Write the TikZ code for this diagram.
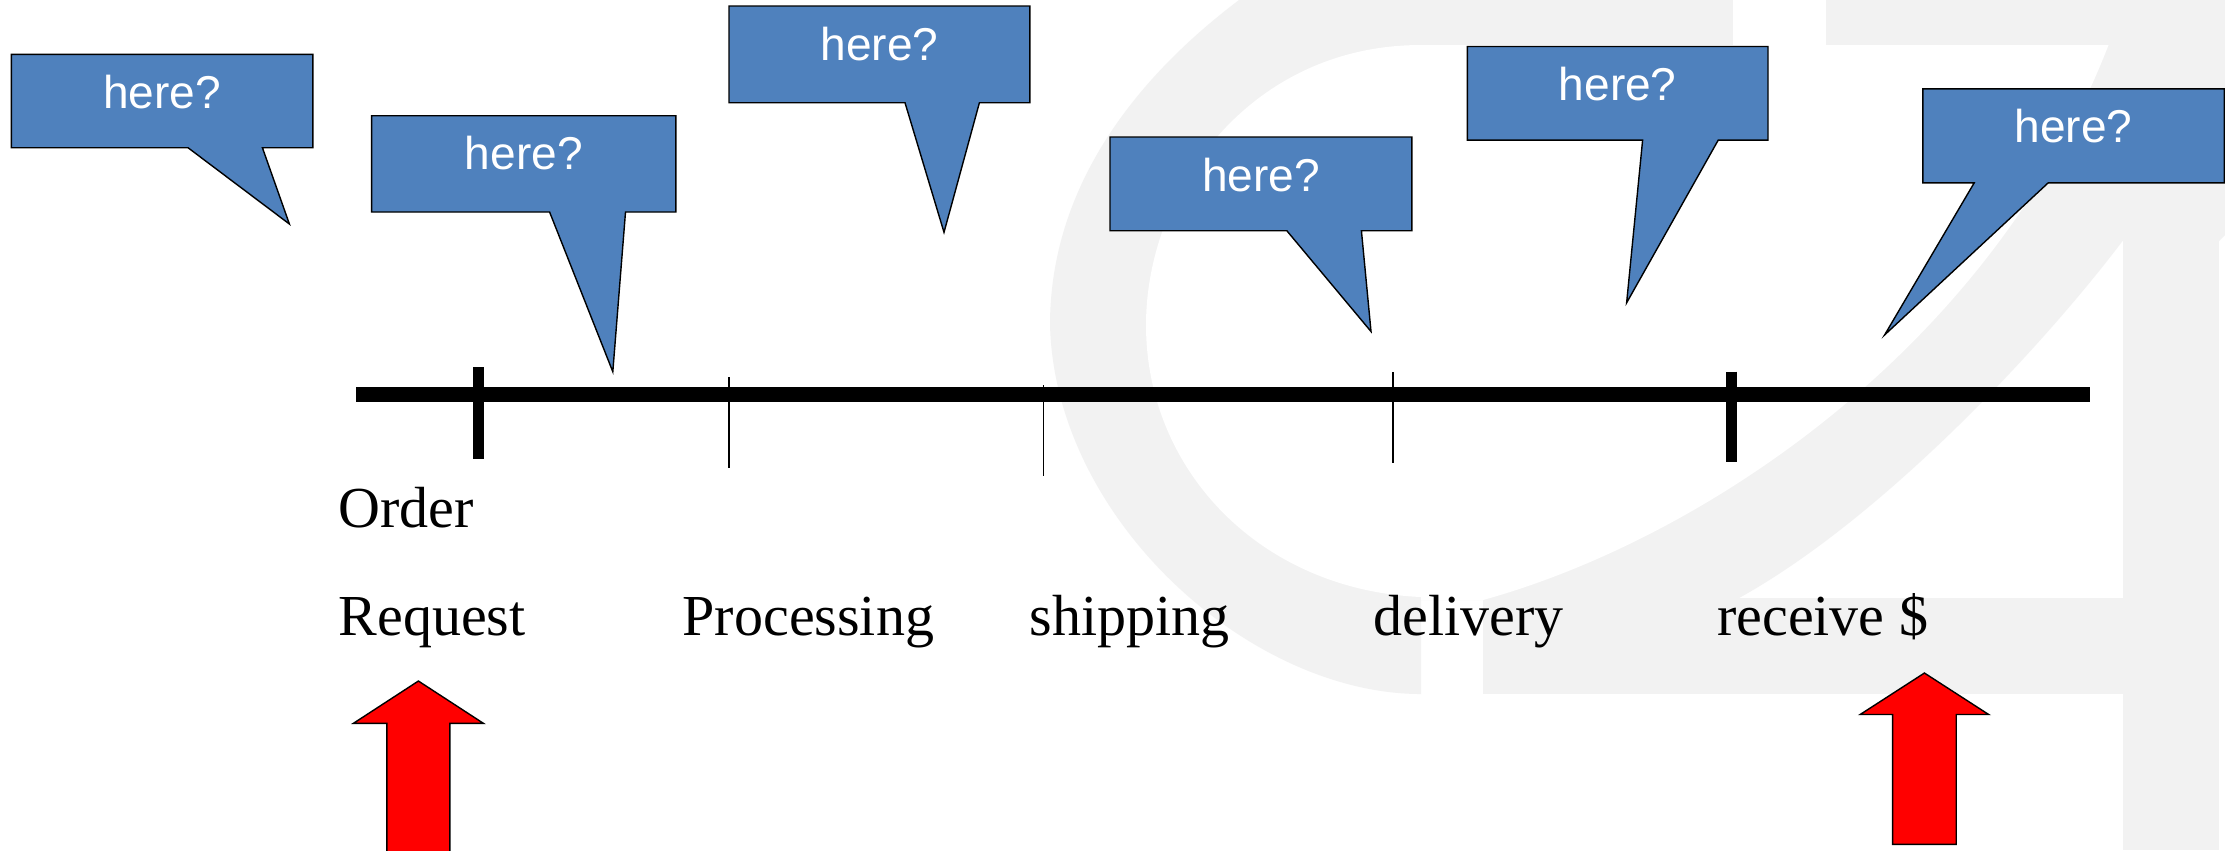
\documentclass[tikz,border=0pt]{standalone}
\usepackage{fontspec}
\setmainfont{Liberation Serif}
\newfontfamily\calloutfont{Liberation Sans}

\definecolor{calloutblue}{HTML}{4F81BD}
\definecolor{markgray}{HTML}{F2F2F2}
\definecolor{arrowred}{HTML}{FF0000}

\tikzset{
  callout/.style={fill=calloutblue, draw=black, line width=0.014cm, line join=miter},
  calloutlabel/.style={text=white, inner sep=0pt, anchor=base,
    font=\calloutfont\fontsize{13.1}{15}\selectfont},
  phaselabel/.style={text=black, inner sep=0pt, anchor=base west,
    font=\fontsize{16.5}{20}\selectfont},
  timeline/.style={line width=0.156cm, line cap=butt},
  majortick/.style={line width=0.114cm, line cap=butt},
  minortick/.style={line width=0.015cm, line cap=butt},
  blockarrow/.style={fill=arrowred, draw=black, line width=0.014cm, line join=miter},
}

% speech bubble: left, top, right, bottom, tail left, tail right, tip x, tip y, name
\newcommand\herebox[9]{%
  \draw[callout] (#1,#2) -- (#3,#2) -- (#3,#4) -- (#6,#4) -- (#7,#8) -- (#5,#4) -- (#1,#4) -- cycle;
  \node[calloutlabel] (#9) at ({(#1+#3)/2},{#2+54}) {here?};
}

% upward block arrow: tip x, tip y, head base y, head half width, shaft half width, bottom y
\newcommand\uparrowblock[6]{%
  \draw[blockarrow] (#1,#2) -- ({#1+#4},#3) -- ({#1+#5},#3) -- ({#1+#5},#6)
    -- ({#1-#5},#6) -- ({#1-#5},#3) -- ({#1-#4},#3) -- cycle;
}

\begin{document}
\begin{tikzpicture}[x=0.01cm, y=-0.01cm]
\useasboundingbox (0,0) rectangle (2225,850);
\clip (0,0) rectangle (2225,850);
\fill[white] (0,0) rectangle (2225,850);

% faint logo mark in the background
\fill[markgray] (1239,0) -- (2225,0) -- (2225,235) -- (2219,241) -- (2122.5,241)
  .. controls (2040,350) and (1880,520) .. (1739,598) -- (1483,598) -- (1483,600)
  -- (1421,600) -- (1421,694)
  .. controls (1250,694) and (1055,520) .. (1050,325)
  .. controls (1050,200) and (1120,90) .. (1239,0) -- cycle;
\fill[markgray] (1483,598) rectangle (2219,694);
\fill[markgray] (2122.5,241) rectangle (2219,850);
\fill[white] (1733,0) rectangle (1825.5,45);
\fill[white] (1421,45) -- (2108.5,45)
  .. controls (1990,350) and (1700,540) .. (1483,600) -- (1421,600) -- (1421,597)
  .. controls (1260,590) and (1146,470) .. (1146,325)
  .. controls (1146,190) and (1250,45) .. (1421,45) -- cycle;

% time line with its marks
\coordinate (lineStart) at (356,394.5);
\coordinate (lineEnd) at (2090,394.5);
\draw[timeline] (lineStart) -- (lineEnd);
\draw[majortick] (478.7,367) -- (478.7,459);
\draw[majortick] (1731.5,371.6) -- (1731.5,462);
\draw[minortick] (729,377) -- (729,468);
\draw[minortick] (1043.5,385) -- (1043.5,476);
\draw[minortick] (1393,372) -- (1393,462.7);

% phase names
\node[phaselabel] (order) at (338,527.7) {Order};
\node[phaselabel] (request) at (338,635) {Request};
\node[phaselabel] (processing) at (682,635) {Processing};
\node[phaselabel] (shipping) at (1029,635) {shipping};
\node[phaselabel] (delivery) at (1373,635) {delivery};
\node[phaselabel] (receive) at (1716.5,635) {receive \$};

% speech bubbles
\herebox{11.3}{54.3}{312.8}{147.7}{188}{262.4}{289.4}{224}{bubbleA}
\herebox{371.6}{115.7}{675.9}{212}{549.6}{625.5}{612.8}{371.7}{bubbleB}
\herebox{729}{6}{1029.8}{102.7}{905}{979.4}{944}{232.3}{bubbleC}
\herebox{1110}{137}{1411.8}{230.7}{1286.8}{1361.4}{1371}{331.5}{bubbleD}
\herebox{1467.4}{46.5}{1768}{140.1}{1642.6}{1718.2}{1626.6}{302.8}{bubbleE}
\herebox{1922.8}{88.8}{2224.2}{182.8}{1974.2}{2048.2}{1884.6}{334.9}{bubbleF}

% red markers under the first and last phase
\uparrowblock{418.4}{681}{723.3}{65}{31.5}{855}
\uparrowblock{1924.4}{673}{714.5}{64.3}{31.8}{844.3}
\end{tikzpicture}
\end{document}
